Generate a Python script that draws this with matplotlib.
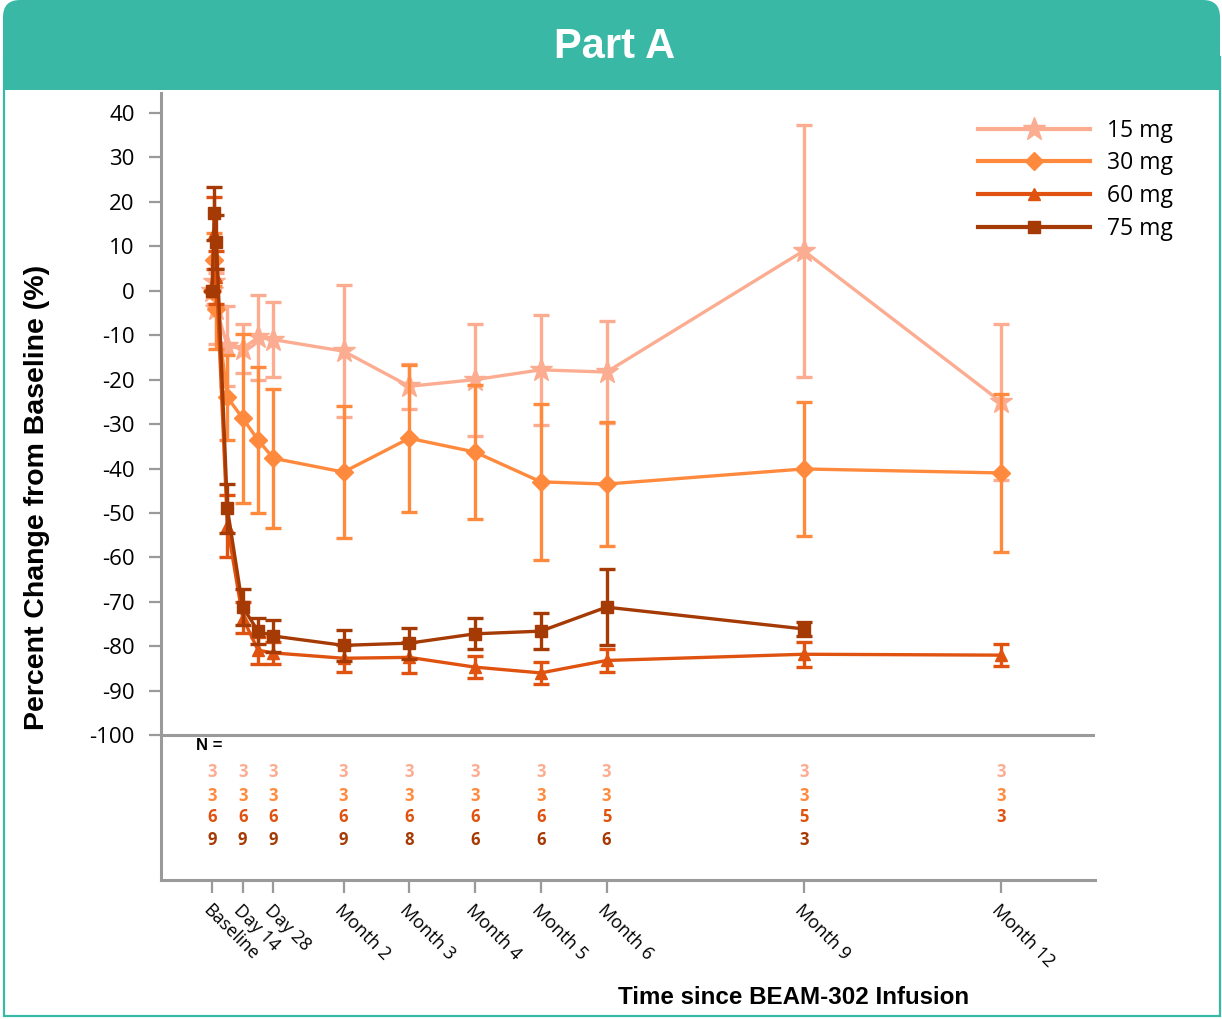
import numpy as np
import matplotlib
matplotlib.use("Agg")
import matplotlib.pyplot as plt
from matplotlib.patches import FancyBboxPatch, Rectangle
from matplotlib.lines import Line2D

plt.rcParams["font.family"] = ["Open Sans", "DejaVu Sans"]
plt.rcParams["axes.unicode_minus"] = False

# --- data ---
days = [0, 1, 2, 7, 14, 21, 28, 60, 90, 120, 150, 180, 270, 360]
nan = np.nan

dose_labels = ["15 mg", "30 mg", "60 mg", "75 mg"]

mean_15 = [0, 2, -4, -12.5, -13, -10.5, -11, -13.6, -21.5, -20, -17.8, -18.3, 9, -25]
err_15 = [0, 5, 8, 9, 5.5, 9.5, 8.5, 14.8, 5, 12.6, 12.3, 11.4, 28.3, 17.5]

mean_30 = [0, 7, -4, -24, -28.7, -33.6, -37.7, -40.8, -33.2, -36.3, -43, -43.5, -40.1, -41]
err_30 = [0, 6, 9, 9.5, 19, 16.5, 15.7, 14.9, 16.5, 15, 17.6, 14, 15, 17.7]

mean_60 = [0, 13, 3, -53, -73.6, -80.9, -81.5, -82.7, -82.5, -84.7, -86, -83.2, -81.8, -82]
err_60 = [0, 8, 6, 7, 3.5, 3, 2.5, 3, 3.5, 2.5, 2.5, 2.5, 2.8, 2.5]

mean_75 = [0, 17.4, 11, -49, -71.2, -76.6, -77.7, -79.8, -79.3, -77.2, -76.6, -71.2, -76.1, nan]
err_75 = [0, 6, 6, 5.5, 4, 3, 3.5, 3.5, 3.5, 3.5, 4, 8.5, 1.5, nan]

# N table
n_days = [0, 14, 28, 60, 90, 120, 150, 180, 270, 360]
n_15 = [3, 3, 3, 3, 3, 3, 3, 3, 3, 3]
n_30 = [3, 3, 3, 3, 3, 3, 3, 3, 3, 3]
n_60 = [6, 6, 6, 6, 6, 6, 6, 5, 5, 3]
n_75 = [9, 9, 9, 9, 8, 6, 6, 6, 3, None]

tick_days = [0, 14, 28, 60, 90, 120, 150, 180, 270, 360]
tick_labels = ["Baseline", "Day 14", "Day 28", "Month 2", "Month 3", "Month 4",
               "Month 5", "Month 6", "Month 9", "Month 12"]

colors = ["#FCAD91", "#FF8A3D", "#E0520F", "#A53A05"]
markers = ["*", "D", "^", "s"]
msizes = [17, 9, 9, 9]

W, H = 12.22, 10.19
fig = plt.figure(figsize=(W, H), dpi=100)
teal = "#39B8A6"
bold_font = ["Liberation Sans", "DejaVu Sans"]

# header band + border
fig.patches.append(Rectangle((0.035, 0.03), W - 0.06, H - 0.6, transform=fig.dpi_scale_trans,
                             facecolor="none", edgecolor=teal, lw=1.6, zorder=0))
fig.patches.append(FancyBboxPatch((0.03, H - 0.9), W - 0.05, 0.9,
                                  boxstyle="round,pad=0,rounding_size=0.17",
                                  transform=fig.dpi_scale_trans,
                                  facecolor=teal, edgecolor="none", zorder=1))
fig.patches.append(Rectangle((0.03, H - 0.9), W - 0.05, 0.4, transform=fig.dpi_scale_trans,
                             facecolor=teal, edgecolor="none", zorder=1))
fig.text(0.503, 1 - 47 / 1019, "Part A", color="white", fontsize=30, fontweight="bold",
         ha="center", va="center", family=bold_font)

ax = fig.add_axes([161 / 1222, 1 - 880 / 1019, (1095 - 161) / 1222, (880 - 93) / 1019])
ax.set_xlim(-23.3, 402.9)
ax.set_ylim(-132.6, 44.5)

series = [(mean_15, err_15), (mean_30, err_30), (mean_60, err_60), (mean_75, err_75)]
for i, (m, e) in enumerate(series):
    ax.errorbar(days, m, yerr=e, color=colors[i], marker=markers[i], markersize=msizes[i],
                lw=2.4, elinewidth=2.4, capsize=6, capthick=2.4, zorder=3 + i)

# frame
gray = "#9A9A9A"
for s in ["top", "right"]:
    ax.spines[s].set_visible(False)
ax.spines["left"].set_color(gray)
ax.spines["left"].set_linewidth(2.2)
ax.spines["bottom"].set_color(gray)
ax.spines["bottom"].set_linewidth(2.2)
ax.axhline(-100, color=gray, lw=2.2, zorder=1)

ax.set_yticks(np.arange(-100, 41, 10))
ax.tick_params(axis="y", length=9, width=1.6, color=gray, labelsize=16, pad=10)
ax.set_xticks(tick_days)
ax.set_xticklabels(tick_labels, rotation=-45, ha="left", va="top", rotation_mode="anchor",
                   fontsize=13)
ax.tick_params(axis="x", length=9, width=1.6, color=gray, pad=6)

# N table
ax.text(-7.5, -102.4, "N =", fontsize=12, fontweight="bold", ha="left", va="center",
        family=bold_font)
row_y = [-108.4, -113.6, -118.5, -123.7]
for r, ns in enumerate([n_15, n_30, n_60, n_75]):
    for d, n in zip(n_days, ns):
        if n is not None:
            ax.text(d, row_y[r], str(n), color=colors[r], fontsize=12, fontweight="bold",
                    ha="center", va="center")

handles = [Line2D([], [], color=colors[i], marker=markers[i], markersize=msizes[i], lw=3)
           for i in range(4)]
ax.legend(handles, dose_labels, loc="upper right", bbox_to_anchor=(1.0 + 92 / 934, 0.985),
          frameon=False, fontsize=16.5, handlelength=4.9, handletextpad=0.75,
          labelspacing=0.38, borderaxespad=0.2)

fig.text(37 / 1222, 1 - 497 / 1019, "Percent Change from Baseline (%)", rotation=90,
         fontsize=20.5, fontweight="bold", ha="center", va="center", family=bold_font)
fig.text(794 / 1222, 1 - 998 / 1019, "Time since BEAM-302 Infusion", fontsize=17.4,
         fontweight="bold", ha="center", va="center", family=bold_font)

fig.savefig("out.png", dpi=100)
